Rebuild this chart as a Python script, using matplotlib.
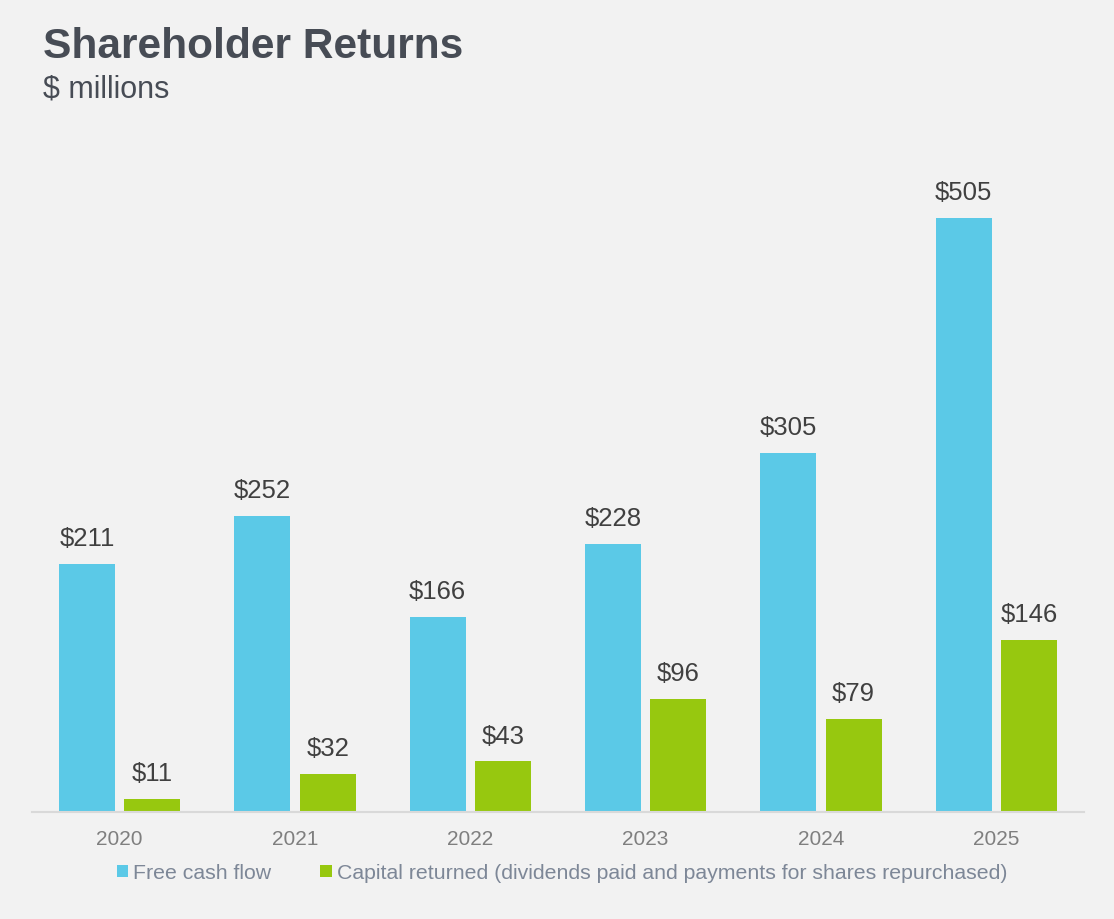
import matplotlib.pyplot as plt
import numpy as np

years = ["2020", "2021", "2022", "2023", "2024", "2025"]
free_cash_flow = [211, 252, 166, 228, 305, 505]
capital_returned = [11, 32, 43, 96, 79, 146]
series_labels = [
    "Free cash flow",
    "Capital returned (dividends paid and payments for shares repurchased)",
]

BG = "#f2f2f2"
BLUE = "#5bc9e7"
GREEN = "#97c80f"

plt.rcParams["font.family"] = ["Liberation Sans", "DejaVu Sans"]

fig = plt.figure(figsize=(11.14, 9.2), dpi=100, facecolor=BG)
ax = fig.add_axes([32 / 1114, 107 / 920, 1052 / 1114, 661 / 920])
ax.set_facecolor(BG)

x = np.arange(len(years))
w = 0.32
off = 0.186
b1 = ax.bar(x - off, free_cash_flow, w, color=BLUE, label=series_labels[0])
b2 = ax.bar(x + off, capital_returned, w, color=GREEN, label=series_labels[1])

for bars, vals in ((b1, free_cash_flow), (b2, capital_returned)):
    for rect, v in zip(bars, vals):
        ax.annotate(f"${v}", (rect.get_x() + rect.get_width() / 2, v),
                    xytext=(0, 10), textcoords="offset points",
                    ha="center", va="bottom", fontsize=18.5, color="#404040")

ax.set_xlim(-0.5, len(years) - 0.5)
ax.set_ylim(0, 562)
ax.set_xticks(x)
ax.set_xticklabels(years, fontsize=15, color="#7f7f7f")
ax.tick_params(axis="x", length=0, pad=12)
ax.set_yticks([])
for s in ("top", "right", "left"):
    ax.spines[s].set_visible(False)
ax.spines["bottom"].set_color("#d9d9d9")
ax.spines["bottom"].set_linewidth(1.5)

leg = fig.legend(loc="center", bbox_to_anchor=(562 / 1114, 1 - 874 / 920),
                 ncol=2, frameon=False, fontsize=15.3, handlelength=0.53,
                 handleheight=0.53, handletextpad=0.25, columnspacing=2.3)
for t in leg.get_texts():
    t.set_color("#7d8797")

fig.text(43 / 1114, 1 - 27 / 920, "Shareholder Returns", fontsize=30.6,
         fontweight="bold", color="#474c55", va="top", ha="left")
fig.text(43 / 1114, 1 - 75 / 920, "$ millions", fontsize=22,
         color="#474c55", va="top", ha="left")

fig.savefig("out.png", dpi=100, facecolor=BG)
